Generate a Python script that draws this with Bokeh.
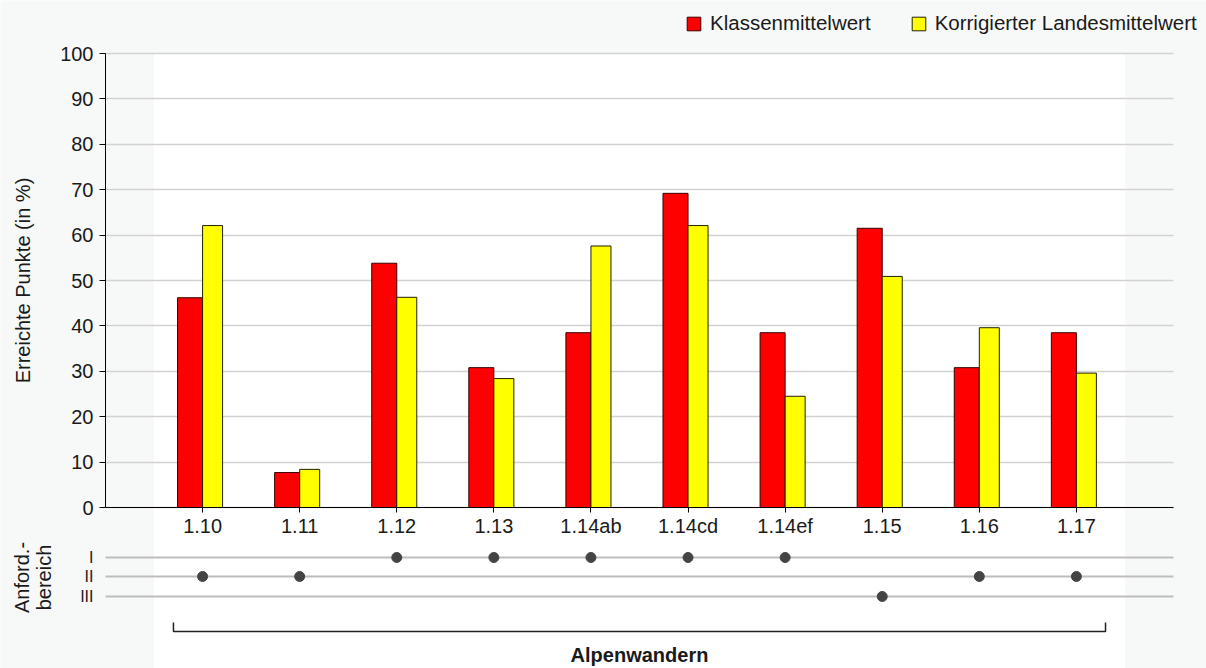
import math
from bokeh.plotting import figure
from bokeh.models import (ColumnDataSource, FixedTicker, LinearAxis, Legend, LegendItem,
                          Label, Range1d, Grid)
from bokeh.embed import file_html
from bokeh.resources import INLINE

# ---------------- data ----------------
categories = ["1.10", "1.11", "1.12", "1.13", "1.14ab", "1.14cd", "1.14ef", "1.15", "1.16", "1.17"]
klassenmittelwert = [46.2, 7.7, 53.8, 30.8, 38.5, 69.2, 38.5, 61.5, 30.8, 38.5]
landesmittelwert = [62.1, 8.4, 46.3, 28.4, 57.6, 62.1, 24.5, 50.9, 39.6, 29.6]
anforderungsbereich = ["II", "II", "I", "I", "I", "I", "I", "III", "II", "II"]
bereich_levels = ["I", "II", "III"]
y_ticks = [0, 10, 20, 30, 40, 50, 60, 70, 80, 90, 100]
series_names = ["Klassenmittelwert", "Korrigierter Landesmittelwert"]
y_title = "Erreichte Punkte (in %)"
bereich_title = "Anford.-\nbereich"
group_title = "Alpenwandern"

# ---------------- layout / style ----------------
FONT = "Liberation Sans"
BG = "#f7f8f8"
TXT = "#1a1a1a"
W, H = 1206, 668
n = len(categories)
PX_X = 97.09          # pixels per category
PX_Y = 4.54           # pixels per percent
X_AXIS_PX = 105       # pixel of the y axis line
Y0_PX = 507           # pixel of value 0
x_start = -1 - X_AXIS_PX / PX_X
x_end = -1 + (W - X_AXIS_PX) / PX_X
y_end = Y0_PX / PX_Y
y_start = -(H - Y0_PX) / PX_Y

def ypx(py):
    return (Y0_PX - py) / PX_Y

def xpx(px):
    return x_start + px / PX_X

level_y = {"I": ypx(557), "II": ypx(576), "III": ypx(596)}
RED_W, YEL_W = 0.258, 0.206

p = figure(width=W, height=H, x_range=Range1d(x_start, x_end), y_range=Range1d(y_start, y_end),
           output_backend="svg", toolbar_location=None, title=None,
           x_axis_type=None, y_axis_type=None,
           min_border_left=0, min_border_right=0, min_border_top=0, min_border_bottom=0,
           background_fill_color=BG, border_fill_color=BG, outline_line_color=None)

# white band behind categories
p.quad(left=-0.5, right=n - 0.5, bottom=y_start, top=100, fill_color="white",
       line_color=None, level="image")

# y axis
yaxis = LinearAxis(ticker=FixedTicker(ticks=y_ticks), bounds=(0, 100), fixed_location=-1)
yaxis.axis_line_color = "black"
yaxis.axis_line_width = 1
yaxis.major_tick_out = 6
yaxis.major_tick_in = 0
yaxis.minor_tick_out = 0
yaxis.minor_tick_in = 0
yaxis.major_tick_line_color = "black"
yaxis.major_label_standoff = 6
yaxis.major_label_text_font = FONT
yaxis.major_label_text_font_size = "20px"
yaxis.major_label_text_color = TXT
p.add_layout(yaxis, "left")

grid = Grid(dimension=1, ticker=FixedTicker(ticks=y_ticks), bounds=(0, 100),
            cross_bounds=(-1, n), grid_line_color="#d2d2d2", grid_line_width=1.5)
p.add_layout(grid)

# bars
idx = list(range(n))
src = ColumnDataSource(dict(
    x=idx, k=klassenmittelwert, l=landesmittelwert,
    kl=[i - RED_W for i in idx], kr=idx,
    ll=idx, lr=[i + YEL_W for i in idx],
))
r_red = p.quad(left="kl", right="kr", bottom=0, top="k", source=src,
               fill_color="#ff0000", line_color="#3a0000", line_width=1)
r_yel = p.quad(left="ll", right="lr", bottom=0, top="l", source=src,
               fill_color="#ffff00", line_color="#202000", line_width=1)

# x axis fixed at 0
xaxis = LinearAxis(ticker=FixedTicker(ticks=idx), bounds=(-1, n),
                   major_label_overrides={i: c for i, c in enumerate(categories)},
                   fixed_location=0)
xaxis.axis_line_color = "black"
xaxis.axis_line_width = 1
xaxis.major_tick_out = 5
xaxis.major_tick_in = 0
xaxis.minor_tick_out = 0
xaxis.minor_tick_in = 0
xaxis.major_tick_line_color = "black"
xaxis.major_label_standoff = 2
xaxis.major_label_text_font = FONT
xaxis.major_label_text_font_size = "20px"
xaxis.major_label_text_color = TXT
p.add_layout(xaxis, "below")

# Anforderungsbereich panel
lvl_src = ColumnDataSource(dict(y=[level_y[b] for b in bereich_levels], name=bereich_levels))
p.segment(x0=-1, x1=n, y0="y", y1="y", source=lvl_src, line_color="#bdbdbd", line_width=2)
dot_src = ColumnDataSource(dict(x=idx, y=[level_y[b] for b in anforderungsbereich]))
p.scatter(x="x", y="y", source=dot_src, size=10, fill_color="#444444", line_color="#444444")
for name in bereich_levels:
    p.add_layout(Label(x=-1, y=level_y[name], text=name, x_offset=-12,
                       text_align="right", text_baseline="middle",
                       text_font=FONT, text_font_size="16px", text_color=TXT))

p.add_layout(Label(x=xpx(32), y=ypx(577), text=bereich_title, angle=math.pi / 2,
                   text_align="center", text_baseline="middle", text_line_height=1.0,
                   text_font=FONT, text_font_size="20px", text_color=TXT))

# bracket
bx0, bx1 = -0.3, n - 1 + 0.3
p.line(x=[bx0, bx0, bx1, bx1], y=[ypx(622), ypx(631), ypx(631), ypx(622)],
       line_color="#222222", line_width=1.5)
p.add_layout(Label(x=(n - 1) / 2, y=ypx(654), text=group_title, text_align="center",
                   text_baseline="middle", text_font=FONT, text_font_size="20px",
                   text_font_style="bold", text_color=TXT))

# y title
p.add_layout(Label(x=xpx(22), y=50, text=y_title, angle=math.pi / 2,
                   text_align="center", text_baseline="middle",
                   text_font=FONT, text_font_size="20px", text_color=TXT))

# legend
legend = Legend(items=[LegendItem(label=series_names[0], renderers=[r_red]),
                       LegendItem(label=series_names[1], renderers=[r_yel])],
                orientation="horizontal", location=(685, H - 35),
                padding=0, margin=0, spacing=39, label_standoff=8,
                glyph_width=17, glyph_height=17, label_height=17,
                border_line_color=None, background_fill_alpha=0,
                label_text_font=FONT, label_text_font_size="20.5px", label_text_color=TXT)
p.add_layout(legend)

open("out.html", "w").write(file_html(p, INLINE))
